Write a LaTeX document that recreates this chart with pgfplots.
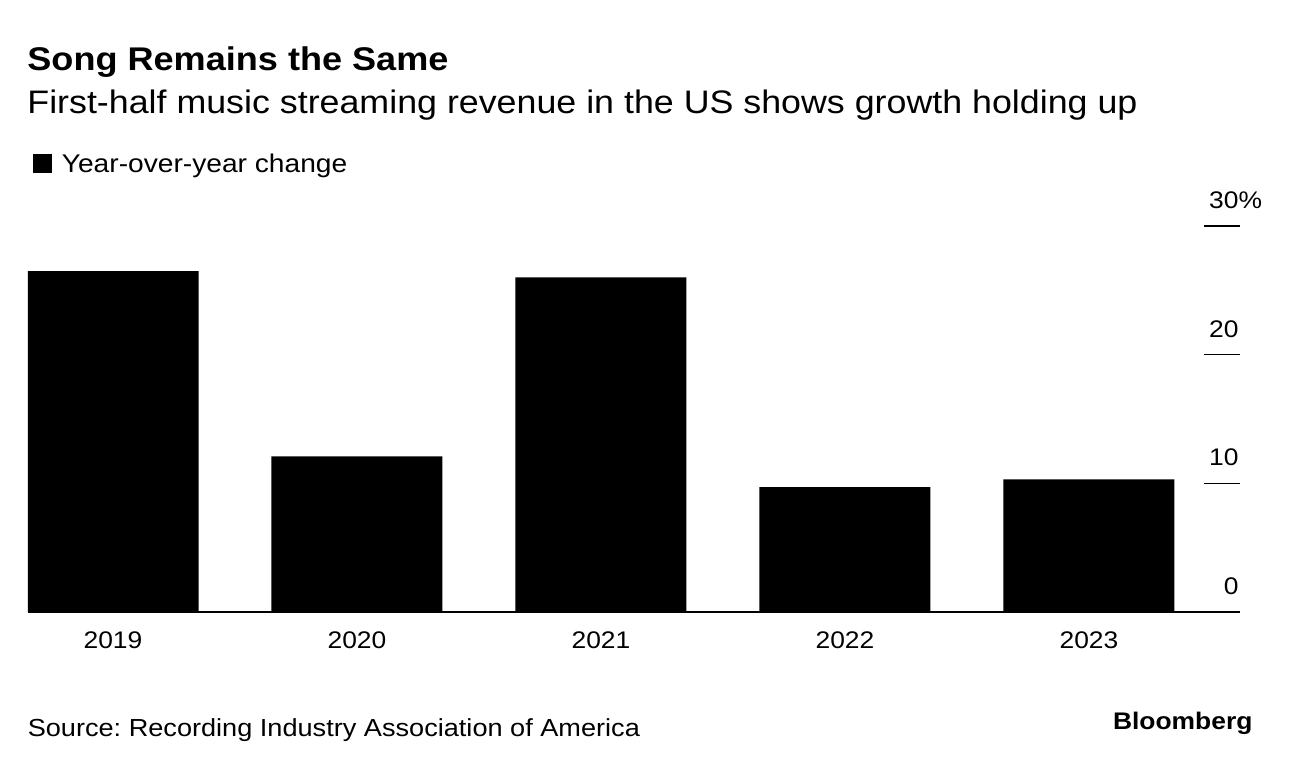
\documentclass[border=0pt]{standalone}
\usepackage{pgfplots}
\pgfplotsset{compat=1.18}
\usepackage{fontspec}
\setmainfont{Liberation Sans}[FakeStretch=1.1]
\frenchspacing
\begin{document}
\begin{tikzpicture}
\path[use as bounding box] (0,0) rectangle (646pt,-384pt);
\node[anchor=base west, inner sep=0pt, font=\bfseries\fontsize{16.4}{19}\selectfont] at (13.5pt,-35.25pt) {Song Remains the Same};
\node[anchor=base west, inner sep=0pt, font=\fontsize{16.27}{19}\selectfont] at (13.5pt,-56.5pt) {First-half music streaming revenue in the US shows growth holding up};
\begin{axis}[
  at={(14pt,-306pt)}, anchor=south west,
  scale only axis, width=606pt, height=193pt,
  xmin=-0.3484, xmax=4.619, ymin=0, ymax=30,
  axis x line*=bottom, axis y line*=right,
  axis line style={-},
  x axis line style={line width=0.8pt, black},
  y axis line style={draw=none},
  xtick={0,1,2,3,4}, xticklabels={2019,2020,2021,2022,2023},
  xtick style={draw=none},
  ytick={0,10,20,30}, yticklabels={0,10,20,{30\rlap{\%}}},
  ytick pos=right, yticklabel pos=right,
  tick align=inside,
  ytick style={line width=0.8pt, black}, major tick length=18pt,
  /pgf/number format/assume math mode=true,
  ticklabel style={font=\fontsize{12}{14}\selectfont},
  yticklabel style={anchor=base east, inner sep=0pt, xshift=-0.5pt, yshift=8.7pt},
  xticklabel style={anchor=base, inner sep=0pt, yshift=-18pt},
  legend style={at={(0.0041,1.189)}, anchor=north west, draw=none, fill=none, inner sep=0pt, column sep=4.75pt, font=\fontsize{12.8}{15}\selectfont, nodes={inner sep=0pt}},
  legend image code/.code={\fill[black] (0pt,-4.2pt) rectangle (9.5pt,5.3pt);},
]
\addplot[ybar, bar width=85.5pt, fill=black, draw=none] coordinates {(0,26.5) (1,12.1) (2,26.0) (3,9.7) (4,10.3)};
\addlegendentry{Year-over-year change}
\end{axis}
\node[anchor=base west, inner sep=0pt, font=\fontsize{12.33}{15}\selectfont] at (13.7pt,-368pt) {Source: Recording Industry Association of America};
\node[anchor=base east, inner sep=0pt, font=\bfseries\fontsize{12}{14}\selectfont] at (626.4pt,-364.5pt) {Bloomberg};
\end{tikzpicture}
\end{document}
